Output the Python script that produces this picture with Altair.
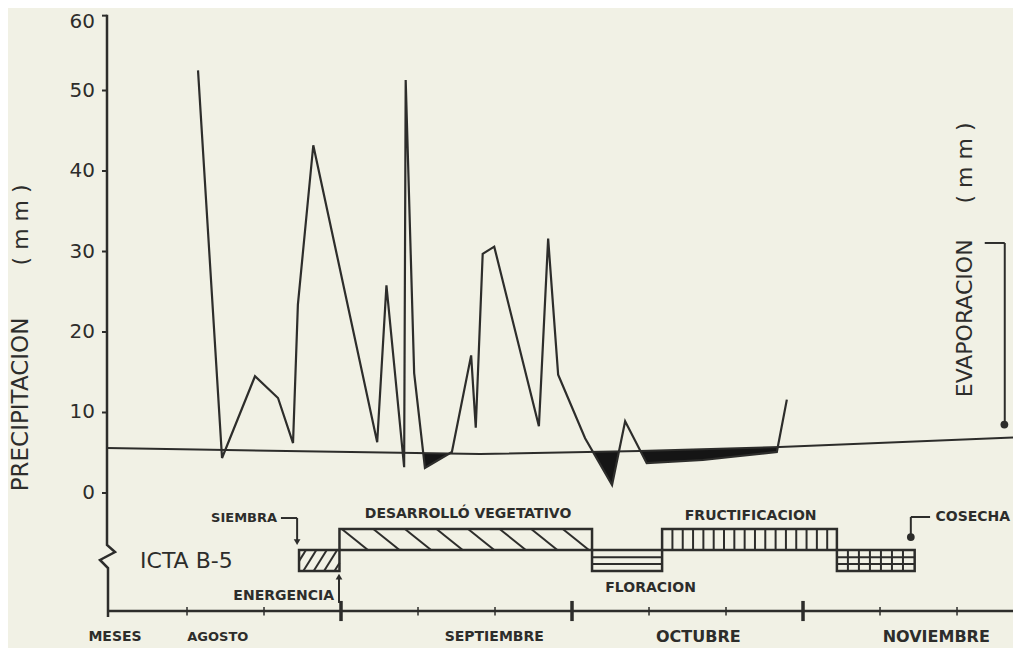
import altair as alt
import pandas as pd

# ---------------- data ----------------
# days counted from 1 August (each month drawn as 30 days)
precip_day = [11.43, 14.55, 18.83, 21.82, 23.77, 24.4, 26.4, 34.7, 35.9, 38.2,
              38.4, 39.5, 40.9, 44.4, 46.9, 47.5, 48.4, 49.9, 55.7, 56.9,
              58.2, 61.7, 65.2, 66.9, 69.7, 77.0, 80.9, 86.6, 87.9]
precip_mm = [52.5, 4.35, 14.5, 11.8, 6.2, 23.4, 43.2, 6.3, 25.8, 3.2,
             51.3, 14.9, 3.1, 5.1, 17.1, 8.1, 29.7, 30.6, 8.3, 31.6,
             14.7, 6.8, 1.0, 8.9, 3.7, 4.1, 4.5, 5.1, 11.6]

evap_day = [-0.39, 48.05, 68.8, 87.0, 117.27]
evap_mm = [5.59, 4.84, 5.22, 5.71, 6.9]

# deficit areas (precipitation below evaporation), shaded black
fill_seg = ["a"] * 3 + ["b"] * 3 + ["c"] * 6
fill_day = [40.68, 40.9, 44.1, 62.73, 65.2, 66.1, 68.89, 69.7, 77.0, 80.9, 86.6, 86.72]
fill_low = [4.95, 3.1, 4.90, 5.11, 1.0, 5.17, 5.22, 3.7, 4.1, 4.5, 5.1, 5.70]
fill_high = [4.95, 4.95, 4.90, 5.11, 5.15, 5.17, 5.22, 5.24, 5.44, 5.55, 5.70, 5.70]

# crop phases of ICTA B-5
phase_name = ["SIEMBRA", "DESARROLLO VEGETATIVO", "FLORACION", "FRUCTIFICACION", "COSECHA"]
phase_start = [24.55, 29.8, 62.6, 71.7, 94.4]
phase_end = [29.8, 62.6, 71.7, 94.4, 104.5]
phase_row = ["low", "high", "low", "high", "low"]
phase_hatch = ["diag_up", "diag_down", "horizontal", "vertical", "grid"]

y_ticks = [0, 10, 20, 30, 40, 50, 60]
x_ticks = [10, 20, 30, 40, 50, 60, 70, 80, 90, 100, 110]

month_names = ["MESES", "AGOSTO", "SEPTIEMBRE", "OCTUBRE", "NOVIEMBRE"]
month_day = [0.65, 14.0, 49.9, 76.4, 107.3]
month_size = [14, 13, 14, 16, 16]

# ---------------- scales ----------------
XS = alt.Scale(domain=[-0.39, 117.27], nice=False, zero=False)
YS = alt.Scale(domain=[-13.79, 60.25], nice=False, zero=False)
INK = "#2d2d2b"
BG = "#f1f1e5"
PXD = 7.7    # pixels per day on the x scale (906 px / 117.66 days)
AXIS_DAY = -0.39
TIME_AXIS_V = -14.66
TOP_LABEL_V = 58.5   # keeps the top tick label inside the page

ROW_Y = {"high": (-7.08, -4.47), "low": (-9.69, -7.08)}


def X(f):
    return alt.X(f, type="quantitative", scale=XS, axis=None)


def Y(f):
    return alt.Y(f, type="quantitative", scale=YS, axis=None)


layers = []

# deficit fill
fill_df = pd.DataFrame({"seg": fill_seg, "day": fill_day, "low": fill_low, "high": fill_high})
layers.append(alt.Chart(fill_df).mark_area(color="#151515", opacity=1).encode(
    x=X("day"), y=Y("low"), y2="high", detail="seg:N"))

# evaporation line
evap_df = pd.DataFrame({"day": evap_day, "mm": evap_mm})
layers.append(alt.Chart(evap_df).mark_line(color=INK, strokeWidth=2).encode(
    x=X("day"), y=Y("mm")))

# precipitation line
pre_df = pd.DataFrame({"day": precip_day, "mm": precip_mm})
layers.append(alt.Chart(pre_df).mark_line(color=INK, strokeWidth=2.2, strokeJoin="miter").encode(
    x=X("day"), y=Y("mm")))

# axis frame: vertical axis with break mark
frame_df = pd.DataFrame({
    "i": list(range(6)),
    "day": [AXIS_DAY, AXIS_DAY, 0.65, -1.3, -0.26, -0.26],
    "v": [59.4, -6.46, -7.33, -8.32, -9.32, -15.4]})
layers.append(alt.Chart(frame_df).mark_line(color=INK, strokeWidth=2.5).encode(
    x=X("day"), y=Y("v"), order="i:Q"))

# y ticks and labels
yt_df = pd.DataFrame({"v": [min(v, TOP_LABEL_V + 0.8) for v in y_ticks],
                      "lv": [min(v, TOP_LABEL_V) for v in y_ticks],
                      "x1": AXIS_DAY - 5 / PXD, "x2": AXIS_DAY,
                      "lx": AXIS_DAY - 12 / PXD, "lab": [str(v) for v in y_ticks]})
layers.append(alt.Chart(yt_df).mark_rule(color=INK, strokeWidth=2).encode(
    x=X("x1"), x2="x2", y=Y("v")))
layers.append(alt.Chart(yt_df).mark_text(
    align="right", baseline="middle", font="DejaVu Sans", fontSize=20, color=INK).encode(
    x=X("lx"), y=Y("lv"), text="lab:N"))

# time axis line and ticks
time_df = pd.DataFrame({"d1": [-0.26], "d2": [117.27], "v": [TIME_AXIS_V]})
layers.append(alt.Chart(time_df).mark_rule(color=INK, strokeWidth=2.5).encode(
    x=X("d1"), x2="d2", y=Y("v")))
major = [d % 30 == 0 for d in x_ticks]
xt_df = pd.DataFrame({
    "d": x_ticks,
    "y1": [TIME_AXIS_V + (1.25 if m else 0.5) for m in major],
    "y2": [TIME_AXIS_V - (1.25 if m else 0.55) for m in major],
    "w": [3.5 if m else 1.5 for m in major]})
layers.append(alt.Chart(xt_df).mark_rule(color=INK).encode(
    x=X("d"), y=Y("y1"), y2="y2", strokeWidth=alt.StrokeWidth("w:Q", scale=None)))

# phase boxes
rows = []
for n, s, e, r in zip(phase_name, phase_start, phase_end, phase_row):
    b, t = ROW_Y[r]
    rows.append({"name": n, "s": s, "e": e, "b": b, "t": t})
box_df = pd.DataFrame(rows)
layers.append(alt.Chart(box_df).mark_rect(fill=None, stroke=INK, strokeWidth=2.5).encode(
    x=X("s"), x2="e", y=Y("b"), y2="t"))


# hatching inside the boxes
def clip(xa, ya, xb, yb, lo, hi):
    t0, t1 = 0.0, 1.0
    if xb != xa:
        ta = (lo - xa) / (xb - xa)
        tb = (hi - xa) / (xb - xa)
        t0 = max(0.0, min(ta, tb))
        t1 = min(1.0, max(ta, tb))
    if t1 - t0 < 0.05:
        return None
    return (xa + t0 * (xb - xa), ya + t0 * (yb - ya), xa + t1 * (xb - xa), ya + t1 * (yb - ya))


hatch = []
for s, e, r, h in zip(phase_start, phase_end, phase_row, phase_hatch):
    b, t = ROW_Y[r]
    if h == "diag_up":
        for k in range(5):
            xb = s - 0.8 + k * 1.35
            c = clip(xb, b, xb + 1.7, t, s, e)
            if c:
                hatch.append(c)
    elif h == "diag_down":
        for k in range(9):
            xt = s + 0.3 + k * 4.1
            c = clip(xt, t, xt + 3.4, b, s, e)
            if c:
                hatch.append(c)
    elif h == "vertical":
        k = 1
        while s + 1.34 * k < e - 0.3:
            hatch.append((s + 1.34 * k, b, s + 1.34 * k, t))
            k += 1
    elif h in ("horizontal", "grid"):
        for yy in (b + (t - b) * 0.66, b + (t - b) * 0.33):
            hatch.append((s, yy, e, yy))
        if h == "grid":
            for k in range(1, 7):
                hatch.append((s + 1.43 * k, b, s + 1.43 * k, t))
hatch_df = pd.DataFrame(hatch, columns=["x1", "y1", "x2", "y2"])
layers.append(alt.Chart(hatch_df).mark_rule(color=INK, strokeWidth=2).encode(
    x=X("x1"), x2="x2", y=Y("y1"), y2="y2"))

# annotation connector lines
conn_df = pd.DataFrame({
    "x1": [22.2, 24.3, 29.74, 106.5, 104.0, 113.6, 116.2],
    "y1": [-3.11, -3.11, -13.66, -2.98, -2.98, 31.06, 31.06],
    "x2": [24.3, 24.3, 29.74, 104.0, 104.0, 116.2, 116.2],
    "y2": [-3.11, -5.9, -10.6, -2.98, -5.3, 31.06, 8.57]})
layers.append(alt.Chart(conn_df).mark_rule(color=INK, strokeWidth=2).encode(
    x=X("x1"), x2="x2", y=Y("y1"), y2="y2"))

heads_df = pd.DataFrame({"day": [24.3], "v": [-6.1]})
layers.append(alt.Chart(heads_df).mark_point(shape="triangle-down", filled=True, color=INK, size=45, opacity=1).encode(
    x=X("day"), y=Y("v")))
heads_up = pd.DataFrame({"day": [29.74], "v": [-10.4]})
layers.append(alt.Chart(heads_up).mark_point(shape="triangle-up", filled=True, color=INK, size=45, opacity=1).encode(
    x=X("day"), y=Y("v")))
dots_df = pd.DataFrame({"day": [104.0, 116.15], "v": [-5.47, 8.5]})
layers.append(alt.Chart(dots_df).mark_point(shape="circle", filled=True, color=INK, size=60, opacity=1).encode(
    x=X("day"), y=Y("v")))


def text_layer(labels, days, vals, align="center", size=14, weight="bold", angle=0, font="DejaVu Sans"):
    df = pd.DataFrame({"t": labels, "day": days, "v": vals})
    kw = dict(align=align, baseline="middle", fontSize=size, fontWeight=weight,
              font=font, color=INK)
    if angle:
        kw["angle"] = angle
    return alt.Chart(df).mark_text(**kw).encode(x=X("day"), y=Y("v"), text="t:N")


# phase labels
layers.append(text_layer(["SIEMBRA"], [21.7], [-3.11], align="right", size=13))
layers.append(text_layer(["DESARROLLÓ  VEGETATIVO"], [46.5], [-2.61], size=14))
layers.append(text_layer(["FRUCTIFICACION"], [83.2], [-2.86], size=14))
layers.append(text_layer(["COSECHA"], [107.2], [-2.98], align="left", size=14))
layers.append(text_layer(["FLORACION"], [70.2], [-11.8], size=14))
layers.append(text_layer(["ENERGENCIA"], [29.1], [-12.8], align="right", size=14))
layers.append(text_layer(["ICTA B-5"], [3.9], [-8.45], align="left", size=22, weight="normal"))

# month labels
for n, d, fs in zip(month_names, month_day, month_size):
    layers.append(text_layer([n], [d], [-17.9], size=fs))

# axis titles (rotated)
layers.append(text_layer(["PRECIPITACION"], [-11.6], [11.0], size=23, weight="normal", angle=270))
layers.append(text_layer(["( m m )"], [-11.6], [33.3], size=22, weight="normal", angle=270))
layers.append(text_layer(["EVAPORACION"], [111.0], [21.7], size=22, weight="normal", angle=270))
layers.append(text_layer(["( m m )"], [111.0], [41.0], size=22, weight="normal", angle=270))

chart = alt.layer(*layers).properties(
    width=906, height=596,
    autosize=alt.AutoSizeParams(type="none"),
    padding={"left": 99, "top": 0, "right": 0, "bottom": 44},
    background=BG,
).configure_view(strokeWidth=0)

chart.save("out.html", embed_options={"renderer": "svg", "actions": False})
